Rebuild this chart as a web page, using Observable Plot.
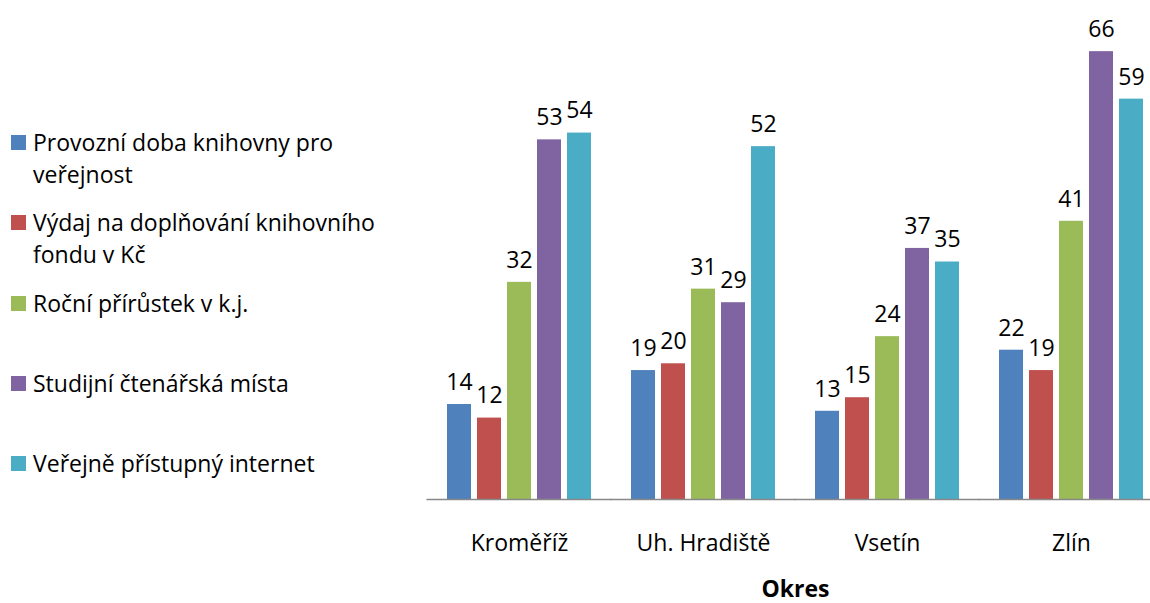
<!DOCTYPE html>
<html>
<head>
<meta charset="utf-8">
<script src="https://cdn.jsdelivr.net/npm/d3@7"></script>
<script src="https://cdn.jsdelivr.net/npm/@observablehq/plot@0.6"></script>
<style>
  html, body { margin: 0; padding: 0; background: #fff; }
  #wrap { position: relative; width: 1150px; height: 603px; overflow: hidden; font-family: "Open Sans", sans-serif; }
  #chart { position: absolute; left: 0; top: 0; }
  #legend { position: absolute; left: 0; top: 0; }
  .item { position: absolute; left: 11px; display: flex; align-items: flex-start; }
  .sw { width: 15px; height: 15px; margin-top: 9px; margin-right: 7px; flex: none; }
  .lab { font-size: 23px; line-height: 32px; color: #000; width: 360px; }
  g[aria-label="fx-axis label"] text { font-weight: bold; }
</style>
</head>
<body>
<div id="wrap"><div id="chart"></div><div id="legend"></div></div>
<script>
const districts = ["Kroměříž", "Uh. Hradiště", "Vsetín", "Zlín"];
const series = [
  "Provozní doba knihovny pro veřejnost",
  "Výdaj na doplňování knihovního fondu v Kč",
  "Roční přírůstek v k.j.",
  "Studijní čtenářská místa",
  "Veřejně přístupný internet"
];
const provozni = [14, 19, 13, 22];
const vydaj = [12, 20, 15, 19];
const rocni = [32, 31, 24, 41];
const studijni = [53, 29, 37, 66];
const internet = [54, 52, 35, 59];
const colors = ["#4F81BD", "#C0504D", "#9BBB59", "#8064A2", "#4BACC6"];

const seriesValues = [provozni, vydaj, rocni, studijni, internet];
const data = [];
districts.forEach((d, i) => {
  series.forEach((s, j) => data.push({district: d, series: s, value: seriesValues[j][i]}));
});

const chart = Plot.plot({
  width: 1150,
  height: 603,
  marginLeft: 427,
  marginRight: -12,
  marginTop: 24,
  marginBottom: 104,
  style: {fontFamily: "Open Sans, sans-serif", fontSize: "23px", color: "#000", background: "#fff", overflow: "visible"},
  fx: {domain: districts, paddingInner: 0.198, paddingOuter: 0.092, label: "Okres"},
  x: {domain: series, paddingInner: 0.186, paddingOuter: 0, axis: null},
  y: {domain: [0, 70], axis: null},
  color: {domain: series, range: colors},
  marks: [
    Plot.barY(data, {fx: "district", x: "series", y: "value", fill: "series"}),
    Plot.ruleY([0], {stroke: "#888", strokeWidth: 1.5, insetLeft: -18.5, insetRight: -18.5}),
    Plot.text(data, {fx: "district", x: "series", y: "value", text: d => String(d.value), dy: -22, lineAnchor: "middle", fill: "#000", fontSize: 23}),
    Plot.axisFx({anchor: "bottom", tickSize: 0, tickPadding: 35, fontSize: 23, label: "Okres", labelAnchor: "center", labelOffset: 97})
  ]
});
document.getElementById("chart").appendChild(chart);

const legend = document.getElementById("legend");
const firstCenter = 142, rowStep = 80.3;
series.forEach((s, i) => {
  const item = document.createElement("div");
  item.className = "item";
  item.style.top = (firstCenter + i * rowStep - 16) + "px";
  const sw = document.createElement("div");
  sw.className = "sw";
  sw.style.background = colors[i];
  const lab = document.createElement("div");
  lab.className = "lab";
  lab.textContent = s;
  item.appendChild(sw);
  item.appendChild(lab);
  legend.appendChild(item);
});
</script>
</body>
</html>
